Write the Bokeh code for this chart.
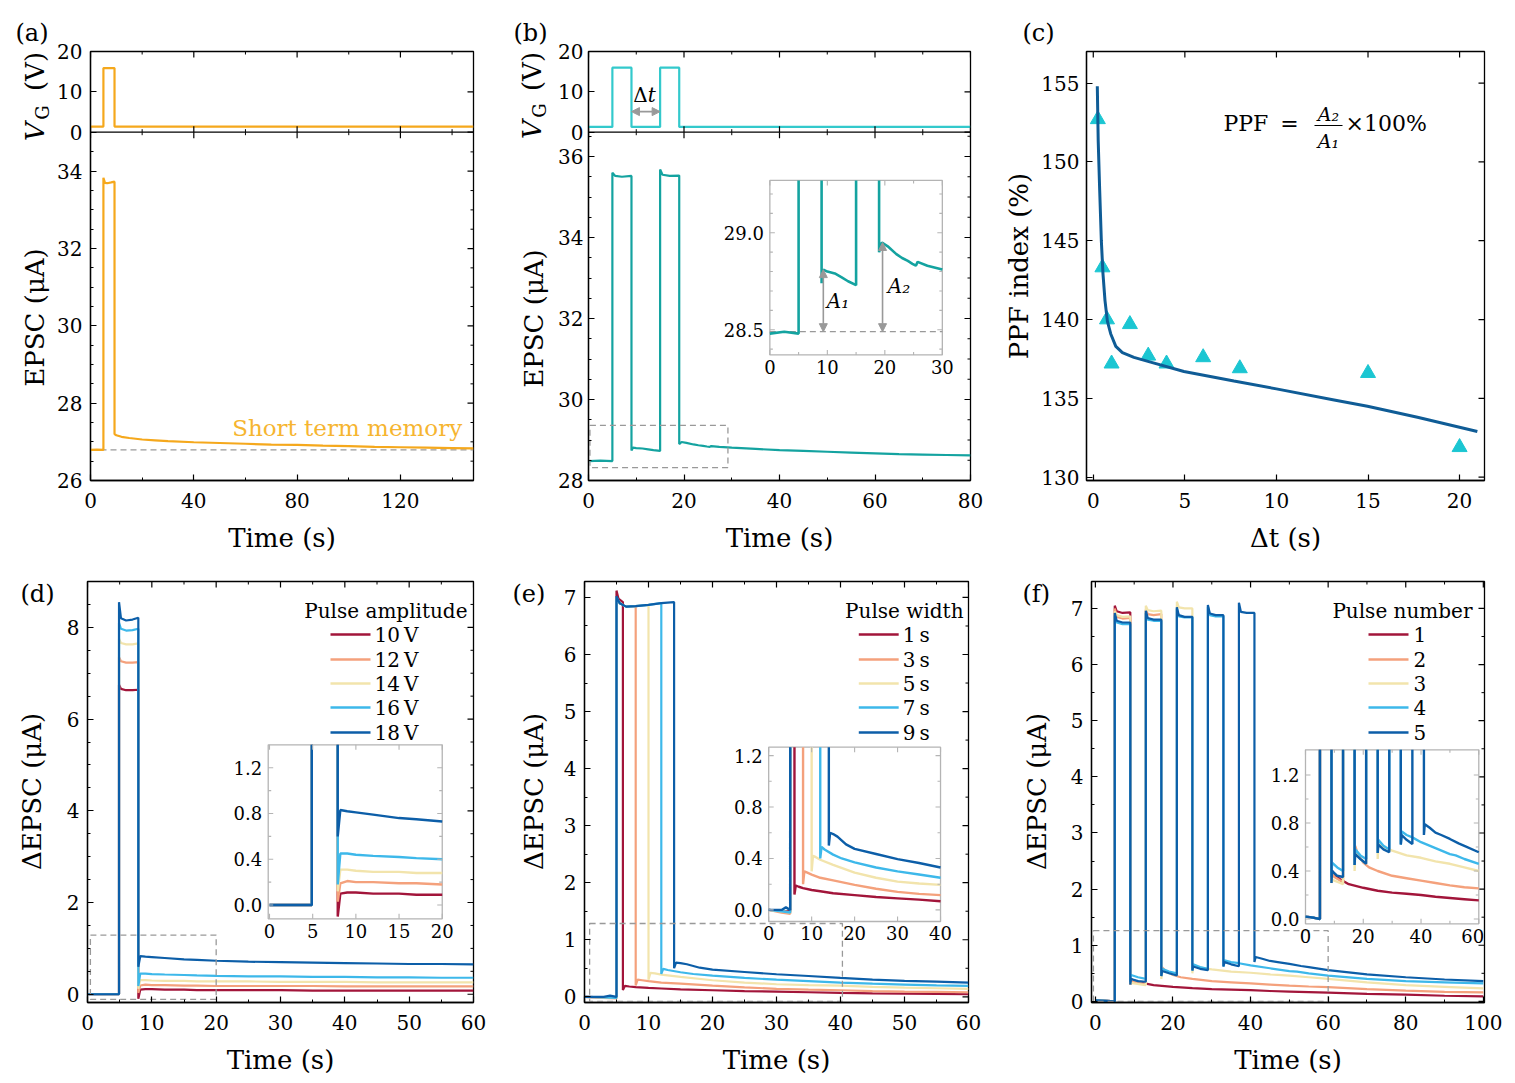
import numpy as np
from math import pi
from bokeh.plotting import figure
from bokeh.models import Range1d, FixedTicker, Span, Arrow, NormalHead, CustomJSTickFormatter
from bokeh.layouts import row, column
from bokeh.core.properties import value
from bokeh.embed import file_html
from bokeh.resources import INLINE

FONT = "DejaVu Serif"

# ---------------------------------------------------------------- data
# (a) single pulse
a_vg_t = [0, 5, 5, 9.3, 9.3, 148.3]
a_vg_v = [1.4, 1.4, 15.9, 15.9, 1.4, 1.4]
a_t = [0, 2.5, 5, 5, 5.6, 6.5, 8, 9.3, 9.3, 10, 12, 15, 20, 25, 30, 40, 50, 60, 70, 80,
       90, 100, 110, 120, 130, 140, 148.3]
a_i = [26.79, 26.80, 26.79, 33.83, 33.70, 33.69, 33.71, 33.73, 27.20, 27.17, 27.13, 27.10,
       27.06, 27.04, 27.02, 26.99, 26.97, 26.95, 26.93, 26.92, 26.90, 26.89, 26.87, 26.86,
       26.85, 26.84, 26.83]
a_base = 26.79

# (b) paired pulses
b_vg_t = [0, 5, 5, 9, 9, 15, 15, 19, 19, 80]
b_vg_v = [1.3, 1.3, 16, 16, 1.3, 1.3, 16, 16, 1.3, 1.3]
b_t = [0, 2.5, 5, 5, 5.6, 7, 9, 9, 9.3, 10, 11.3, 12.5, 13.6, 15, 15, 15.5, 17, 19, 19, 19.5,
       20.5, 22, 23, 24, 24.8, 25.4, 25.7, 27.4, 30, 35, 40, 45, 50, 55, 60, 65, 70, 75, 80]
b_i = [28.48, 28.49, 28.48, 35.60, 35.52, 35.50, 35.52, 28.74, 28.81, 28.80, 28.79, 28.77,
       28.75, 28.73, 35.68, 35.55, 35.52, 35.53, 28.90, 28.95, 28.93, 28.89, 28.87, 28.855,
       28.84, 28.83, 28.85, 28.83, 28.81, 28.78, 28.75, 28.73, 28.71, 28.69, 28.67, 28.65,
       28.64, 28.63, 28.62]
b_base = 28.49

# (c) PPF index
c_dt = [0.25, 0.5, 0.75, 1, 2, 3, 4, 6, 8, 15, 20]
c_ppf = [152.7, 143.3, 140.0, 137.2, 139.7, 137.7, 137.2, 137.6, 136.9, 136.6, 131.9]
c_fit_x = [0.22, 0.27, 0.35, 0.44, 0.53, 0.64, 0.77, 0.95, 1.23, 1.59, 2.22, 3.13, 4.95,
           7.68, 10.0, 13.15, 14.97, 17.7, 20.97]
c_fit_y = [154.8, 151.3, 148.2, 145.0, 142.9, 141.2, 139.9, 139.1, 138.3, 137.9, 137.6,
           137.3, 136.7, 136.1, 135.6, 134.9, 134.5, 133.8, 132.9]

# (d) pulse amplitude
d_t = [0, 3, 4.9, 4.9, 5.2, 6, 7, 7.9, 7.9, 8.2, 9, 10, 12, 15, 17, 20, 25, 30, 35, 40, 45,
       50, 55, 60]
d_10 = [0, 0, 0, 6.75, 6.66, 6.63, 6.63, 6.64, -0.10, 0.10, 0.11, 0.11, 0.10, 0.10, 0.09,
        0.09, 0.09, 0.09, 0.08, 0.08, 0.08, 0.08, 0.08, 0.08]
d_12 = [0, 0, 0, 7.35, 7.26, 7.23, 7.23, 7.24, 0.03, 0.19, 0.21, 0.20, 0.20, 0.19, 0.19,
        0.18, 0.18, 0.18, 0.18, 0.17, 0.17, 0.17, 0.17, 0.17]
d_14 = [0, 0, 0, 7.75, 7.66, 7.63, 7.63, 7.65, 0.12, 0.31, 0.31, 0.30, 0.29, 0.29, 0.28,
        0.28, 0.28, 0.27, 0.27, 0.27, 0.26, 0.26, 0.26, 0.26]
d_16 = [0, 0, 0, 8.10, 7.97, 7.93, 7.94, 7.97, 0.18, 0.45, 0.45, 0.44, 0.43, 0.42, 0.41,
        0.40, 0.39, 0.39, 0.38, 0.38, 0.37, 0.37, 0.36, 0.36]
d_18 = [0, 0, 0, 8.55, 8.20, 8.15, 8.17, 8.21, 0.60, 0.83, 0.82, 0.81, 0.79, 0.76, 0.75,
        0.73, 0.71, 0.70, 0.69, 0.68, 0.67, 0.66, 0.66, 0.65]
d_labels = ["10\u2009V", "12\u2009V", "14\u2009V", "16\u2009V", "18\u2009V"]

# (e) pulse width
e_t1 = [0, 3, 5, 5, 5.3, 6, 6, 6.3, 7, 8, 10, 12, 15, 20, 25, 30, 35, 40, 45, 50, 55, 60]
e_1 = [0, -0.01, -0.01, 7.12, 6.98, 6.92, 0.12, 0.19, 0.18, 0.17, 0.155, 0.145, 0.13, 0.115,
       0.10, 0.09, 0.08, 0.067, 0.06, 0.055, 0.05, 0.045]
e_t3 = [0, 3, 5, 5, 5.5, 6.5, 8, 8, 8.3, 9, 10, 12, 15, 20, 25, 30, 35, 40, 45, 50, 55, 60]
e_3 = [0, -0.02, -0.03, 7.0, 6.9, 6.84, 6.85, 0.2, 0.30, 0.29, 0.275, 0.25, 0.23, 0.195,
       0.165, 0.14, 0.125, 0.115, 0.10, 0.09, 0.085, 0.08]
e_t5 = [0, 3, 5, 5, 5.5, 6.5, 8, 10, 10, 10.3, 11, 12, 15, 20, 25, 30, 35, 40, 45, 50, 55, 60]
e_5 = [0, -0.01, -0.02, 7.0, 6.9, 6.84, 6.85, 6.87, 0.3, 0.42, 0.41, 0.39, 0.35, 0.29, 0.25,
       0.22, 0.205, 0.195, 0.175, 0.16, 0.15, 0.14]
e_t7 = [0, 3, 5, 5, 5.5, 6.5, 8, 10, 12, 12, 12.3, 13, 15, 17, 20, 25, 30, 35, 40, 45, 50,
        55, 60]
e_7 = [0, -0.01, -0.02, 7.0, 6.9, 6.84, 6.85, 6.87, 6.9, 0.4, 0.49, 0.47, 0.43, 0.40, 0.37,
       0.33, 0.30, 0.275, 0.25, 0.23, 0.215, 0.20, 0.19]
e_t9 = [0, 3, 4, 5, 5, 5.5, 6.5, 8, 10, 12, 14, 14, 14.3, 15, 16, 18, 20, 25, 30, 35, 40, 45,
        50, 55, 60]
e_9 = [0, 0.0, 0.02, 0.0, 7.02, 6.9, 6.84, 6.85, 6.87, 6.9, 6.92, 0.5, 0.60, 0.59, 0.57,
       0.51, 0.475, 0.435, 0.395, 0.365, 0.33, 0.30, 0.28, 0.265, 0.25]
e_labels = ["1\u2009s", "3\u2009s", "5\u2009s", "7\u2009s", "9\u2009s"]

# (f) pulse number
f_t1 = [0, 3, 5, 5, 5.5, 7, 9, 9, 9.2, 10, 12, 15, 20, 25, 30, 35, 40, 45, 50, 55, 60, 70,
        80, 90, 100]
f_1 = [0.02, 0.01, 0.0, 7.05, 6.95, 6.92, 6.93, 0.3, 0.40, 0.37, 0.33, 0.29, 0.26, 0.235,
       0.22, 0.21, 0.20, 0.185, 0.175, 0.165, 0.155, 0.135, 0.12, 0.10, 0.09]
f_t2 = [0, 3, 5, 5, 5.5, 7, 9, 9, 9.2, 10, 12, 13, 13, 13.5, 15, 17, 17, 17.2, 18, 20, 22,
        25, 30, 35, 40, 45, 50, 55, 60, 70, 80, 90, 100]
f_2 = [0.02, 0.01, 0.0, 7.0, 6.85, 6.82, 6.83, 0.3, 0.38, 0.35, 0.32, 0.31, 6.98, 6.9, 6.88,
       6.9, 0.45, 0.61, 0.55, 0.47, 0.43, 0.40, 0.36, 0.34, 0.32, 0.30, 0.28, 0.265, 0.255,
       0.22, 0.19, 0.17, 0.16]
f_t3 = [0, 3, 5, 5, 5.5, 7, 9, 9, 9.2, 10, 12, 13, 13, 13.5, 15, 17, 17, 17.2, 19, 21, 21,
        21.5, 23, 25, 25, 25.2, 27, 29, 30, 35, 40, 45, 50, 55, 60, 70, 80, 90, 100]
f_3 = [0.02, 0.01, 0.0, 6.95, 6.88, 6.85, 6.86, 0.3, 0.33, 0.32, 0.30, 0.29, 7.05, 6.97,
       6.95, 6.96, 0.4, 0.55, 0.5, 0.46, 7.12, 7.02, 7.0, 7.0, 0.5, 0.63, 0.6, 0.58, 0.57,
       0.53, 0.51, 0.48, 0.46, 0.43, 0.40, 0.34, 0.29, 0.26, 0.23]
f_t4 = [0, 3, 5, 5, 5.5, 7, 9, 9, 9.2, 11, 13, 13, 13.5, 15, 17, 17, 17.2, 19, 21, 21, 21.5,
        23, 25, 25, 25.2, 27, 29, 29, 29.5, 31, 33, 33, 33.3, 35, 37, 40, 45, 50, 52, 55, 60,
        70, 80, 90, 100]
f_4 = [0.02, 0.01, 0.0, 6.88, 6.75, 6.72, 6.72, 0.35, 0.47, 0.43, 0.40, 6.92, 6.8, 6.78,
       6.78, 0.45, 0.58, 0.53, 0.50, 7.0, 6.86, 6.84, 6.84, 0.55, 0.66, 0.61, 0.58, 7.03,
       6.88, 6.86, 6.86, 0.62, 0.73, 0.70, 0.68, 0.64, 0.59, 0.54, 0.53, 0.50, 0.46, 0.40,
       0.36, 0.34, 0.32]
f_t5 = [0, 3, 5, 5, 5.5, 7, 9, 9, 9.2, 11, 13, 13, 13.5, 15, 17, 17, 17.2, 19, 21, 21, 21.5,
        23, 25, 25, 25.2, 27, 29, 29, 29.5, 31, 33, 33, 33.3, 35, 37, 37, 37.5, 39, 41, 41,
        41.3, 43, 45, 47, 50, 53, 55, 60, 70, 80, 90, 100]
f_5 = [0.02, 0.01, 0.0, 6.92, 6.78, 6.75, 6.75, 0.3, 0.40, 0.36, 0.35, 6.96, 6.83, 6.80,
       6.80, 0.45, 0.54, 0.50, 0.46, 7.02, 6.88, 6.85, 6.85, 0.55, 0.62, 0.58, 0.556, 7.06,
       6.91, 6.88, 6.88, 0.62, 0.70, 0.66, 0.625, 7.1, 6.94, 6.92, 6.92, 0.7, 0.79, 0.76,
       0.72, 0.70, 0.667, 0.63, 0.61, 0.556, 0.48, 0.43, 0.39, 0.36]
f_labels = ["1", "2", "3", "4", "5"]

# ---------------------------------------------------------------- styles
ORANGE = "#F5A81C"
ORANGE_TXT = "#F6B530"
CYAN = "#33C9CC"
TEAL = "#14A3A0"
TRI = "#1BC6D2"
FIT = "#0F5C96"
PAL = ["#A2153A", "#F4A17C", "#F2E4AC", "#3DB8EA", "#0C5EA8"]
GREY = "#999999"
IFRAME = "#B4B4B4"
LW = 2.2

H1, H2 = 556, 527
T1, B1 = 51, 76      # row 1 borders (frame 51..480)
T2, B2 = 25, 81      # row 2 borders (frame 581..1002)


def new_fig(W, H, l, r, t, b, xr, yr):
    p = figure(width=W, height=H, x_range=Range1d(*xr), y_range=Range1d(*yr),
               min_border_left=l, min_border_right=r, min_border_top=t, min_border_bottom=b,
               output_backend="svg", toolbar_location=None)
    p.xgrid.visible = False
    p.ygrid.visible = False
    p.outline_line_color = "black"
    p.outline_line_width = 1.3
    p.background_fill_color = "white"
    p.border_fill_color = "white"
    return p


def strip(W, H, t, b):
    # label column: its frame lines up with the neighbouring frames; y = -(pixel row)
    s = figure(width=W, height=H, x_range=Range1d(0, W), y_range=Range1d(-(H - b), -t),
               min_border_left=0, min_border_right=0, min_border_top=t, min_border_bottom=b,
               x_axis_type=None, y_axis_type=None, output_backend="svg", toolbar_location=None)
    s.outline_line_color = None
    s.background_fill_color = "white"
    s.border_fill_color = "white"
    return s


def panel_title(p, text, offset):
    p.title.text = text
    p.title.align = "left"
    p.title.offset = offset
    p.title.standoff = 10
    p.title.text_font = FONT
    p.title.text_font_size = "24px"
    p.title.text_font_style = "normal"
    p.title.text_color = "black"


def style_axis(ax, stand):
    ax.axis_line_color = "black"
    ax.axis_line_width = 1.3
    ax.major_tick_in = 6
    ax.major_tick_out = 0
    ax.minor_tick_in = 3
    ax.minor_tick_out = 0
    ax.major_tick_line_color = "black"
    ax.minor_tick_line_color = "black"
    ax.major_tick_line_width = 1.2
    ax.minor_tick_line_width = 1.0
    ax.major_label_text_font = FONT
    ax.major_label_text_color = "black"
    ax.major_label_text_font_size = "20px"
    ax.major_label_standoff = stand
    ax.axis_label_text_font = FONT
    ax.axis_label_text_font_size = "26px"
    ax.axis_label_text_font_style = "normal"
    ax.axis_label_text_color = "black"


def setup_axes(p, xmaj, xmin, ymaj, ymin, xlabel=None, ylabel=None, xs=12, ys=12, yfmt=None,
               xstand=12, ystand=8):
    bx = p.xaxis[0]
    ly = p.yaxis[0]
    bx.ticker = FixedTicker(ticks=xmaj, minor_ticks=xmin)
    ly.ticker = FixedTicker(ticks=ymaj, minor_ticks=ymin)
    if yfmt is not None:
        ly.formatter = yfmt
    style_axis(bx, xstand)
    style_axis(ly, ystand)
    if xlabel:
        bx.axis_label = xlabel
        bx.axis_label_standoff = xs
    if ylabel:
        ly.axis_label = ylabel
        ly.axis_label_standoff = ys
    xe, ye = p.x_range.end, p.y_range.end
    for vals, ln, lw in ((xmaj, 6, 1.2), (xmin, 3, 1.0)):
        if vals:
            p.ray(x=vals, y=[ye] * len(vals), length=ln, length_units="screen", angle=-pi / 2,
                  line_color="black", line_width=lw)
    for vals, ln, lw in ((ymaj, 6, 1.2), (ymin, 3, 1.0)):
        if vals:
            p.ray(x=[xe] * len(vals), y=vals, length=ln, length_units="screen", angle=pi,
                  line_color="black", line_width=lw)


def seq(a, b, step, skip=()):
    out = []
    v = a
    while v <= b + 1e-9:
        r = round(v, 6)
        if all(abs(r - s) > 1e-6 for s in skip):
            out.append(r)
        v += step
    return out


def clip(xs, ys, x0, x1, y0, y1):
    ox, oy = [], []
    last = None
    for i in range(len(xs) - 1):
        ax, ay, bx, by = xs[i], ys[i], xs[i + 1], ys[i + 1]
        dx, dy = bx - ax, by - ay
        t0, t1, ok = 0.0, 1.0, True
        for pp, q in ((-dx, ax - x0), (dx, x1 - ax), (-dy, ay - y0), (dy, y1 - ay)):
            if pp == 0:
                if q < 0:
                    ok = False
                    break
            else:
                r = q / pp
                if pp < 0:
                    if r > t1:
                        ok = False
                        break
                    t0 = max(t0, r)
                else:
                    if r < t0:
                        ok = False
                        break
                    t1 = min(t1, r)
        if not ok:
            continue
        sx, sy = ax + t0 * dx, ay + t0 * dy
        ex, ey = ax + t1 * dx, ay + t1 * dy
        if last is None or abs(sx - last[0]) > 1e-9 or abs(sy - last[1]) > 1e-9:
            if ox:
                ox.append(np.nan)
                oy.append(np.nan)
            ox.append(sx)
            oy.append(sy)
        ox.append(ex)
        oy.append(ey)
        last = (ex, ey)
    return np.array(ox, dtype=float), np.array(oy, dtype=float)


def tmap(s, t, v):
    return t[0] + (v - s[0]) * (t[1] - t[0]) / (s[1] - s[0])


def sub(p, sx, sy, tx, ty):
    return p.subplot(x_source=Range1d(*sx), y_source=Range1d(*sy),
                     x_target=Range1d(*tx), y_target=Range1d(*ty))


def px_sub(p, fw, fh):
    return sub(p, (0, fw), (0, fh), (p.x_range.start, p.x_range.end),
               (p.y_range.start, p.y_range.end))


def txt(g, x, y, text, size="20px", align="left", base="middle", color="black", style="normal",
        xo=0, yo=0, angle=0):
    g.text(x=x, y=y, text=text, text_font=value(FONT), text_font_size=size, text_align=align,
           text_baseline=base, text_color=color, text_font_style=style, x_offset=xo,
           y_offset=yo, angle=angle)


def vtxt(s, x, y, text, size="26px", style="normal"):
    txt(s, [x], [-y], [text], size=size, align="center", base="middle", style=style,
        angle=pi / 2)


def draw_inset(p, sx, sy, tx, ty, xmaj, xmin, ymaj, ymin, xlab, ylab, series, lw=2.4,
               last_xo=0):
    s = sub(p, sx, sy, tx, ty)
    s.quad(left=[sx[0]], right=[sx[1]], bottom=[sy[0]], top=[sy[1]], fill_color="white",
           line_color=IFRAME, line_width=1.3)
    for xs, ys, c in series:
        cx, cy = clip(xs, ys, sx[0], sx[1], sy[0], sy[1])
        s.line(cx, cy, line_color=c, line_width=lw)
    for vals, ln in ((xmaj, 5), (xmin, 3)):
        if vals:
            n = len(vals)
            s.ray(x=vals, y=[sy[0]] * n, length=ln, length_units="screen", angle=pi / 2,
                  line_color=IFRAME, line_width=1.1)
            s.ray(x=vals, y=[sy[1]] * n, length=ln, length_units="screen", angle=-pi / 2,
                  line_color=IFRAME, line_width=1.1)
    for vals, ln in ((ymaj, 5), (ymin, 3)):
        if vals:
            n = len(vals)
            s.ray(x=[sx[0]] * n, y=vals, length=ln, length_units="screen", angle=0,
                  line_color=IFRAME, line_width=1.1)
            s.ray(x=[sx[1]] * n, y=vals, length=ln, length_units="screen", angle=pi,
                  line_color=IFRAME, line_width=1.1)
    txt(s, xmaj[:-1], [sy[0]] * (len(xmaj) - 1), xlab[:-1], size="18px", align="center",
        base="top", yo=5)
    txt(s, xmaj[-1:], [sy[0]], xlab[-1:], size="18px", align="center", base="top", yo=5,
        xo=last_xo)
    txt(s, [sx[0]] * len(ymaj), ymaj, ylab, size="18px", align="right", base="middle", xo=-6)
    return s


def legend(p, fw, fh, title, labels, colors, title_right, lx0, lx1, tx, ty, ys):
    s = px_sub(p, fw, fh)
    txt(s, [title_right], [ty], [title], size="20px", align="right")
    n = len(labels)
    s.segment(x0=[lx0] * n, y0=ys, x1=[lx1] * n, y1=ys, line_color=colors, line_width=2.6)
    txt(s, [tx] * n, ys, labels, size="20px", align="left")


def arrow(p, x0, y0, x1, y1):
    p.add_layout(Arrow(start=NormalHead(size=8, fill_color=GREY, line_color=GREY),
                       end=NormalHead(size=8, fill_color=GREY, line_color=GREY),
                       x_start=x0, y_start=y0, x_end=x1, y_end=y1,
                       line_color=GREY, line_width=1.6))


# ---------------------------------------------------------------- (a)
A_X = (0, 148.3)
A_TOP = 26 + 429 / 38.66
A_VG0 = 35.01
pa = new_fig(451, H1, 35, 32, T1, B1, A_X, (26, A_TOP))
fmt_a = CustomJSTickFormatter(code="if (tick > %f) { return String(Math.round((tick - %f) / %f * 20)); } return String(Math.round(tick));" % (A_VG0 - 0.01, A_VG0, A_TOP - A_VG0))
a_vg_ticks = [A_VG0 + v / 20 * (A_TOP - A_VG0) for v in (0, 10, 20)]
setup_axes(pa, [0, 40, 80, 120], [20, 60, 100, 140], [26, 28, 30, 32, 34] + a_vg_ticks,
           seq(26.5, 34.5, 0.5, skip=[26, 28, 30, 32, 34]), xlabel="Time (s)", yfmt=fmt_a)
pa.add_layout(Span(location=a_base, dimension="width", line_color=GREY, line_dash="6 4",
                   line_width=1.3, level="underlay"))
pa.line(a_t, a_i, line_color=ORANGE, line_width=LW)
vga = sub(pa, A_X, (0, 20), A_X, (A_VG0, A_TOP))
vga.line(a_vg_t, a_vg_v, line_color=ORANGE, line_width=LW)
pa.add_layout(Span(location=A_VG0, dimension="width", line_color="black", line_width=1.3))
for ang in (pi / 2, -pi / 2):
    pa.ray(x=[0, 40, 80, 120], y=[A_VG0] * 4, length=6, length_units="screen", angle=ang,
           line_color="black", line_width=1.2)
    pa.ray(x=[20, 60, 100, 140], y=[A_VG0] * 4, length=3, length_units="screen", angle=ang,
           line_color="black", line_width=1.0)
txt(pa, [143.9], [27.35], ["Short term memory"], size="23px", align="right", color=ORANGE_TXT)

sa = strip(54, H1, T1, B1)
panel_title(sa, "(a)", 15)
vtxt(sa, 34, 317, "EPSC (\u03bcA)")
vtxt(sa, 34, 131, "V", style="italic")
vtxt(sa, 42, 112, "G", size="18px")
vtxt(sa, 34, 71, "(V)")

# ---------------------------------------------------------------- (b)
B_X = (0, 80)
B_TOP = 28 + 429 / 40.5
B_VG0 = 36.60
pb = new_fig(445, H1, 31, 30, T1, B1, B_X, (28, B_TOP))
fmt_b = CustomJSTickFormatter(code="if (tick > %f) { return String(Math.round((tick - %f) / %f * 20)); } return String(Math.round(tick));" % (B_VG0 - 0.01, B_VG0, B_TOP - B_VG0))
b_vg_ticks = [B_VG0 + v / 20 * (B_TOP - B_VG0) for v in (0, 10, 20)]
setup_axes(pb, [0, 20, 40, 60, 80], [10, 30, 50, 70], [28, 30, 32, 34, 36] + b_vg_ticks,
           seq(28.5, 36.5, 0.5, skip=[28, 30, 32, 34, 36]), xlabel="Time (s)",
           yfmt=fmt_b, ystand=5)
pb.line(b_t, b_i, line_color=TEAL, line_width=LW)
vgb = sub(pb, B_X, (0, 20), B_X, (B_VG0, B_TOP))
vgb.line(b_vg_t, b_vg_v, line_color=CYAN, line_width=LW)
pb.add_layout(Span(location=B_VG0, dimension="width", line_color="black", line_width=1.3))
for ang in (pi / 2, -pi / 2):
    pb.ray(x=[0, 20, 40, 60, 80], y=[B_VG0] * 5, length=6, length_units="screen", angle=ang,
           line_color="black", line_width=1.2)
    pb.ray(x=[10, 30, 50, 70], y=[B_VG0] * 4, length=3, length_units="screen", angle=ang,
           line_color="black", line_width=1.0)
txt(vgb, [12.4], [9.3], ["\u0394"], size="20px", align="right")
txt(vgb, [12.4], [9.3], ["t"], size="20px", align="left", style="italic")
arrow(pb, 9, tmap((0, 20), (B_VG0, B_TOP), 5.1), 15, tmap((0, 20), (B_VG0, B_TOP), 5.1))
pb.quad(left=[0.3], right=[29.2], bottom=[28.32], top=[29.36], fill_color=None,
        line_color=GREY, line_dash="6 4", line_width=1.3)
BI_SX, BI_SY = (0, 30), (28.37, 29.27)
BI_TX, BI_TY = (37.98, 74.1), (31.10, 35.41)
bi = draw_inset(pb, BI_SX, BI_SY, BI_TX, BI_TY, [0, 10, 20, 30], [5, 15, 25], [28.5, 29.0],
                [28.4, 28.6, 28.7, 28.8, 28.9, 29.1, 29.2], ["0", "10", "20", "30"],
                ["28.5", "29.0"], [])
bi.line([0, 30], [b_base, b_base], line_color=GREY, line_dash="6 4", line_width=1.3)
cx, cy = clip(b_t, b_i, BI_SX[0], BI_SX[1], BI_SY[0], BI_SY[1])
bi.line(cx, cy, line_color=TEAL, line_width=2.6)
for xa, ya in ((9.3, 28.81), (19.6, 28.95)):
    arrow(pb, tmap(BI_SX, BI_TX, xa), tmap(BI_SY, BI_TY, b_base),
          tmap(BI_SX, BI_TX, xa), tmap(BI_SY, BI_TY, ya))
txt(bi, [9.9], [28.646], ["A\u2081"], size="20px", style="italic")
txt(bi, [20.5], [28.726], ["A\u2082"], size="20px", style="italic")

sb = strip(50, H1, T1, B1)
panel_title(sb, "(b)", 8)
vtxt(sb, 28, 318, "EPSC (\u03bcA)")
vtxt(sb, 26, 129, "V", style="italic")
vtxt(sb, 34, 110, "G", size="18px")
vtxt(sb, 26, 71, "(V)")

# ---------------------------------------------------------------- (c)
C_X, C_Y = (-0.37, 21.36), (129.79, 157.0)
pc = new_fig(515, H1, 86, 31, T1, B1, C_X, C_Y)
setup_axes(pc, [0, 5, 10, 15, 20], [], [130, 135, 140, 145, 150, 155], [],
           xlabel="\u0394t (s)", ylabel="PPF index (%)", ys=4, ystand=7)
panel_title(pc, "(c)", -64)
pc.scatter(c_dt, c_ppf, marker="triangle", size=15, fill_color=TRI, line_color=TRI)
pc.line(c_fit_x, c_fit_y, line_color=FIT, line_width=3)
fc = px_sub(pc, 398, 429)
txt(fc, [137], [357.5], ["PPF"], size="22px")
txt(fc, [203], [357.5], ["="], size="22px", align="center")
txt(fc, [242], [367], ["A\u2082"], size="19px", align="center", style="italic")
fc.segment(x0=[228], y0=[355], x1=[256], y1=[355], line_color="black", line_width=1.2)
txt(fc, [242], [340], ["A\u2081"], size="19px", align="center", style="italic")
txt(fc, [259], [357.5], ["\u00d7100%"], size="22px")

# ---------------------------------------------------------------- (d)
D_X, D_Y = (0, 60), (-0.18, 9.0)
pd = new_fig(438, H2, 25, 27, T2, B2, D_X, D_Y)
setup_axes(pd, seq(0, 60, 10), seq(5, 55, 10), [0, 2, 4, 6, 8],
           seq(0.5, 9.0, 0.5, skip=[2, 4, 6, 8]), xlabel="Time (s)")
d_series = [(d_t, d_10, PAL[0]), (d_t, d_12, PAL[1]), (d_t, d_14, PAL[2]),
            (d_t, d_16, PAL[3]), (d_t, d_18, PAL[4])]
for xs_, ys_, c in d_series:
    pd.line(xs_, ys_, line_color=c, line_width=LW)
pd.quad(left=[0.45], right=[20.0], bottom=[-0.11], top=[1.29], fill_color=None,
        line_color=GREY, line_dash="6 4", line_width=1.3)
draw_inset(pd, (-0.15, 20), (-0.12, 1.40), (28.09, 55.14), (1.645, 5.439),
           [0, 5, 10, 15, 20], [], [0, 0.4, 0.8, 1.2], [0.2, 0.6, 1.0],
           ["0", "5", "10", "15", "20"], ["0.0", "0.4", "0.8", "1.2"], d_series)
legend(pd, 386, 421, "Pulse amplitude", d_labels, PAL, 380, 243, 283, 287, 392,
       [368, 343, 319, 295, 270])
sd = strip(62, H2, T2, B2)
txt(sd, [20], [-37], ["(d)"], size="24px")
vtxt(sd, 31, 235, "\u0394EPSC (\u03bcA)")

# ---------------------------------------------------------------- (e)
E_X, E_Y = (0, 60), (-0.1, 7.28)
pe = new_fig(440, H2, 23, 32, T2, B2, E_X, E_Y)
setup_axes(pe, seq(0, 60, 10), seq(5, 55, 10), seq(0, 7, 1), seq(0.5, 7.0, 1.0),
           xlabel="Time (s)")
e_series = [(e_t1, e_1, PAL[0]), (e_t3, e_3, PAL[1]), (e_t5, e_5, PAL[2]),
            (e_t7, e_7, PAL[3]), (e_t9, e_9, PAL[4])]
for xs_, ys_, c in e_series:
    pe.line(xs_, ys_, line_color=c, line_width=LW)
pe.quad(left=[0.8], right=[40.3], bottom=[-0.08], top=[1.285], fill_color=None,
        line_color=GREY, line_dash="6 4", line_width=1.3)
draw_inset(pe, (0, 40), (-0.09, 1.265), (28.78, 55.63), (1.32, 4.375),
           [0, 10, 20, 30, 40], [], [0, 0.4, 0.8, 1.2], [0.2, 0.6, 1.0],
           ["0", "10", "20", "30", "40"], ["0.0", "0.4", "0.8", "1.2"], e_series)
legend(pe, 385, 421, "Pulse width", e_labels, PAL, 380, 275, 315, 319, 392,
       [368, 343, 319, 295, 270])
se = strip(60, H2, T2, B2)
txt(se, [12], [-37], ["(e)"], size="24px")
vtxt(se, 33, 235, "\u0394EPSC (\u03bcA)")

# ---------------------------------------------------------------- (f)
F_X, F_Y = (-1, 100.3), (-0.02, 7.48)
pf = new_fig(452, H2, 28, 31, T2, B2, F_X, F_Y)
setup_axes(pf, seq(0, 100, 20), seq(10, 90, 20), seq(0, 7, 1), seq(0.5, 7.0, 1.0),
           xlabel="Time (s)")
f_series = [(f_t1, f_1, PAL[0]), (f_t2, f_2, PAL[1]), (f_t3, f_3, PAL[2]),
            (f_t4, f_4, PAL[3]), (f_t5, f_5, PAL[4])]
for xs_, ys_, c in f_series:
    pf.line(xs_, ys_, line_color=c, line_width=LW)
pf.quad(left=[-0.5], right=[60.0], bottom=[0.0], top=[1.26], fill_color=None,
        line_color=GREY, line_dash="6 4", line_width=1.3)
draw_inset(pf, (0, 60), (-0.04, 1.41), (54.16, 98.83), (1.382, 4.482),
           [0, 20, 40, 60], [10, 30, 50], [0, 0.4, 0.8, 1.2], [0.2, 0.6, 1.0],
           ["0", "20", "40", "60"], ["0.0", "0.4", "0.8", "1.2"], f_series, last_xo=-6)
legend(pf, 393, 421, "Pulse number", f_labels, PAL, 381, 277, 317, 322, 392,
       [368, 343, 319, 295, 270])
sf = strip(63, H2, T2, B2)
txt(sf, [22], [-37], ["(f)"], size="24px")
vtxt(sf, 36, 235, "\u0394EPSC (\u03bcA)")

layout = column(row(sa, pa, sb, pb, pc), row(sd, pd, se, pe, sf, pf))
open("out.html", "w").write(file_html(layout, INLINE, title="EPSC synaptic plasticity"))
